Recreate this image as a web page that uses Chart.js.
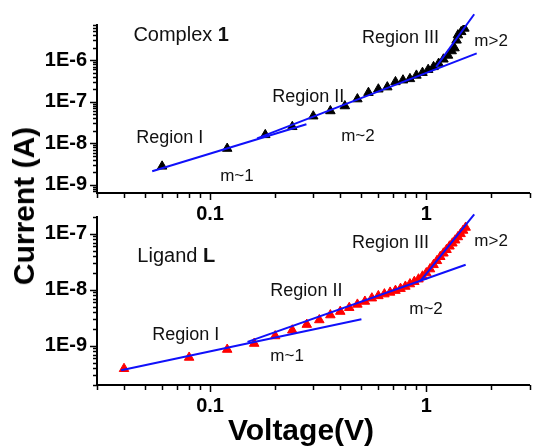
<!DOCTYPE html>
<html><head><meta charset="utf-8">
<script src="https://cdn.jsdelivr.net/npm/chart.js@4/dist/chart.umd.min.js"></script>
<style>
html,body{margin:0;padding:0;background:#fff;}
#wrap{position:relative;width:536px;height:447px;overflow:hidden;background:#fff;}
#wrap canvas{position:absolute;left:0;top:0;}
.ttl{position:absolute;font-family:'Liberation Sans',Arial,sans-serif;font-weight:bold;font-size:30px;line-height:30px;color:#000;white-space:nowrap;}
#ytitle{left:24px;top:206px;transform:translate(-50%,-50%) rotate(-90deg);}
#xtitle{left:301px;top:415px;transform:translateX(-50%);}
</style></head>
<body>
<div id="wrap">
<canvas id="top" width="536" height="447"></canvas>
<canvas id="bot" width="536" height="447"></canvas>
<div class="ttl" id="ytitle">Current (A)</div>
<div class="ttl" id="xtitle">Voltage(V)</div>
</div>
<script>
// ---------- DATA ----------
// Complex 1 (top panel): voltage (V), current (A)
const complexV = [0.06,0.12,0.18,0.24,0.30,0.36,0.42,0.48,0.54,0.60,0.66,0.72,0.78,0.84,0.90,0.96,1.02,1.08,1.14,1.20,1.26,1.31,1.35,1.38,1.40,1.45,1.50];
const complexI = [2.8e-9,7.5e-9,1.6e-8,2.5e-8,4.5e-8,6.0e-8,7.9e-8,1.16e-7,1.65e-7,2.0e-7,2.25e-7,3.0e-7,3.3e-7,3.55e-7,4.3e-7,5.0e-7,5.9e-7,6.9e-7,8.3e-7,1.05e-6,1.3e-6,1.66e-6,1.95e-6,3.0e-6,4.0e-6,4.8e-6,5.8e-6];
// Ligand L (bottom panel)
const ligandV = [0.04,0.08,0.12,0.16,0.20,0.24,0.28,0.32,0.36,0.40,0.44,0.48,0.52,0.56,0.60,0.64,0.68,0.72,0.76,0.80,0.84,0.88,0.92,0.96,1.00,1.04,1.08,1.12,1.16,1.20,1.24,1.28,1.32,1.36,1.40,1.44,1.48,1.52];
const ligandI = [3.9e-10,6.2e-10,8.6e-10,1.1e-9,1.5e-9,1.9e-9,2.4e-9,2.9e-9,3.55e-9,4.1e-9,4.8e-9,5.5e-9,6.2e-9,7.1e-9,7.8e-9,8.4e-9,9.0e-9,9.7e-9,1.05e-8,1.15e-8,1.27e-8,1.4e-8,1.55e-8,1.75e-8,2.0e-8,2.35e-8,2.8e-8,3.3e-8,3.9e-8,4.5e-8,5.2e-8,6.0e-8,6.8e-8,7.7e-8,8.8e-8,1.0e-7,1.15e-7,1.3e-7];
// fitted straight lines (endpoints: [V0, I0, V1, I1])
const complexFitI   = [0.054, 2.14e-9, 0.279, 2.87e-8];
const complexFitII  = [0.165, 1.32e-8, 1.71, 1.45e-6];
const complexFitIII = [1.11, 6.9e-7, 1.665, 1.27e-5];
const ligandFitI    = [0.0388, 3.66e-10, 0.501, 2.98e-9];
const ligandFitII   = [0.149, 1.18e-9, 1.52, 2.81e-8];
const ligandFitIII  = [0.94, 1.45e-8, 1.665, 2.22e-7];
// tick labels
const xTickVals = [0.1, 1];
const topYTickVals = [1e-9, 1e-8, 1e-7, 1e-6];
const botYTickVals = [1e-9, 1e-8, 1e-7];
// annotation texts (anchored in data units)
const topNotes = [
  {parts:[['Complex ',''],['1','bold ']], v:0.0442, i:4.0e-6, size:20},
  {parts:[['Region III','']], v:0.504, i:3.33e-6, size:18},
  {parts:[['m>2','']], v:1.667, i:2.78e-6, size:17},
  {parts:[['Region II','']], v:0.194, i:1.33e-7, size:18},
  {parts:[['m~2','']], v:0.404, i:1.45e-8, size:17},
  {parts:[['Region I','']], v:0.0456, i:1.37e-8, size:18},
  {parts:[['m~1','']], v:0.1113, i:1.58e-9, size:17}
];
const botNotes = [
  {parts:[['Ligand ',''],['L','bold ']], v:0.0461, i:3.92e-8, size:20},
  {parts:[['Region I','']], v:0.054, i:1.57e-9, size:18},
  {parts:[['Region II','']], v:0.190, i:9.7e-9, size:18},
  {parts:[['Region III','']], v:0.4535, i:6.97e-8, size:18},
  {parts:[['m>2','']], v:1.667, i:7.26e-8, size:17},
  {parts:[['m~2','']], v:0.834, i:4.56e-9, size:17},
  {parts:[['m~1','']], v:0.190, i:6.41e-10, size:17}
];

// ---------- HELPERS ----------
const FONT = "'Liberation Sans', Arial, sans-serif";
const BLUE = 'rgb(16,16,250)';
const pts = (xs, ys) => xs.map((x, k) => ({x, y: ys[k]}));
const seg = a => [{x:a[0], y:a[1]}, {x:a[2], y:a[3]}];
const lineDs = a => ({data: seg(a), showLine: true, borderColor: BLUE, borderWidth: 2, pointRadius: 0, clip: false, order: 0});
const markDs = (d, c) => ({data: d, showLine: false, pointStyle: 'triangle', pointRadius: 5.5, borderWidth: 1, backgroundColor: c, borderColor: c, order: 1});

function logSubTicks(min, max) {
  const out = [];
  for (let e = Math.floor(Math.log10(min)); e <= Math.ceil(Math.log10(max)); e++) {
    for (let k = 1; k <= 9; k++) {
      const v = k * Math.pow(10, e);
      if (v >= min * 0.999 && v <= max * 1.001) out.push(v);
    }
  }
  return out;
}

const tickPlugin = {
  id: 'tickMarks',
  afterDatasetsDraw(chart) {
    const ctx = chart.ctx, xs = chart.scales.x, ys = chart.scales.y;
    ctx.save();
    ctx.strokeStyle = '#000';
    ctx.lineWidth = 1.5;
    ctx.beginPath();
    logSubTicks(xs.min, xs.max).forEach(v => {
      const p = Math.round(xs.getPixelForValue(v)) + 0.5;
      const isMaj = Math.abs(Math.log10(v) - Math.round(Math.log10(v))) < 1e-6;
      ctx.moveTo(p, xs.top); ctx.lineTo(p, xs.top + (isMaj ? 7 : 5));
    });
    logSubTicks(ys.min, ys.max).forEach(v => {
      const p = Math.round(ys.getPixelForValue(v)) + 0.5;
      const isMaj = Math.abs(Math.log10(v) - Math.round(Math.log10(v))) < 1e-6;
      ctx.moveTo(ys.right, p); ctx.lineTo(ys.right - (isMaj ? 7 : 4), p);
    });
    ctx.stroke();
    ctx.restore();
  }
};

const notePlugin = {
  id: 'notes',
  afterDatasetsDraw(chart, args, opts) {
    const ctx = chart.ctx, xs = chart.scales.x, ys = chart.scales.y;
    ctx.save();
    ctx.fillStyle = '#111';
    ctx.textBaseline = 'middle';
    ctx.textAlign = 'left';
    (opts.items || []).forEach(n => {
      let x = xs.getPixelForValue(n.v);
      const y = ys.getPixelForValue(n.i);
      n.parts.forEach(([t, w]) => {
        ctx.font = w + n.size + 'px ' + FONT;
        ctx.fillText(t, x, y);
        x += ctx.measureText(t).width;
      });
    });
    ctx.restore();
  }
};

function makeChart(id, datasets, yMin, yMax, yTicks, padTop, xHeight, notes) {
  return new Chart(document.getElementById(id), {
    type: 'scatter',
    data: {datasets},
    plugins: [tickPlugin, notePlugin],
    options: {
      responsive: false,
      animation: false,
      events: [],
      layout: {padding: {top: padTop, left: 0, right: 0, bottom: 0}},
      plugins: {legend: {display: false}, tooltip: {enabled: false}, notes: {items: notes}},
      scales: {
        x: {
          type: 'logarithmic', min: 0.03, max: 3,
          afterFit: s => { s.height = xHeight; },
          afterBuildTicks: s => { s.ticks = xTickVals.map(v => ({value: v})); },
          grid: {display: false, drawTicks: false},
          border: {display: true, color: '#000', width: 2},
          ticks: {color: '#000', font: {family: FONT, size: 20, weight: 'bold'}, padding: 9,
                  maxRotation: 0, autoSkip: false, callback: v => String(v)}
        },
        y: {
          type: 'logarithmic', min: yMin, max: yMax,
          afterFit: s => { s.width = 97; },
          afterBuildTicks: s => { s.ticks = yTicks.map(v => ({value: v})); },
          grid: {display: false, drawTicks: false},
          border: {display: true, color: '#000', width: 2},
          ticks: {color: '#000', font: {family: FONT, size: 20, weight: 'bold'}, padding: 10,
                  autoSkip: false, callback: v => '1E' + Math.round(Math.log10(v))}
        }
      }
    }
  });
}

makeChart('top', [
  lineDs(complexFitI), lineDs(complexFitII), lineDs(complexFitIII),
  markDs(pts(complexV, complexI), '#000')
], 6.4e-10, 7e-6, topYTickVals, 25, 254, topNotes);

makeChart('bot', [
  lineDs(ligandFitI), lineDs(ligandFitII), lineDs(ligandFitIII),
  markDs(pts(ligandV, ligandI), 'rgb(255,0,0)')
], 2e-10, 2e-7, botYTickVals, 217, 62, botNotes);
</script>
</body></html>
